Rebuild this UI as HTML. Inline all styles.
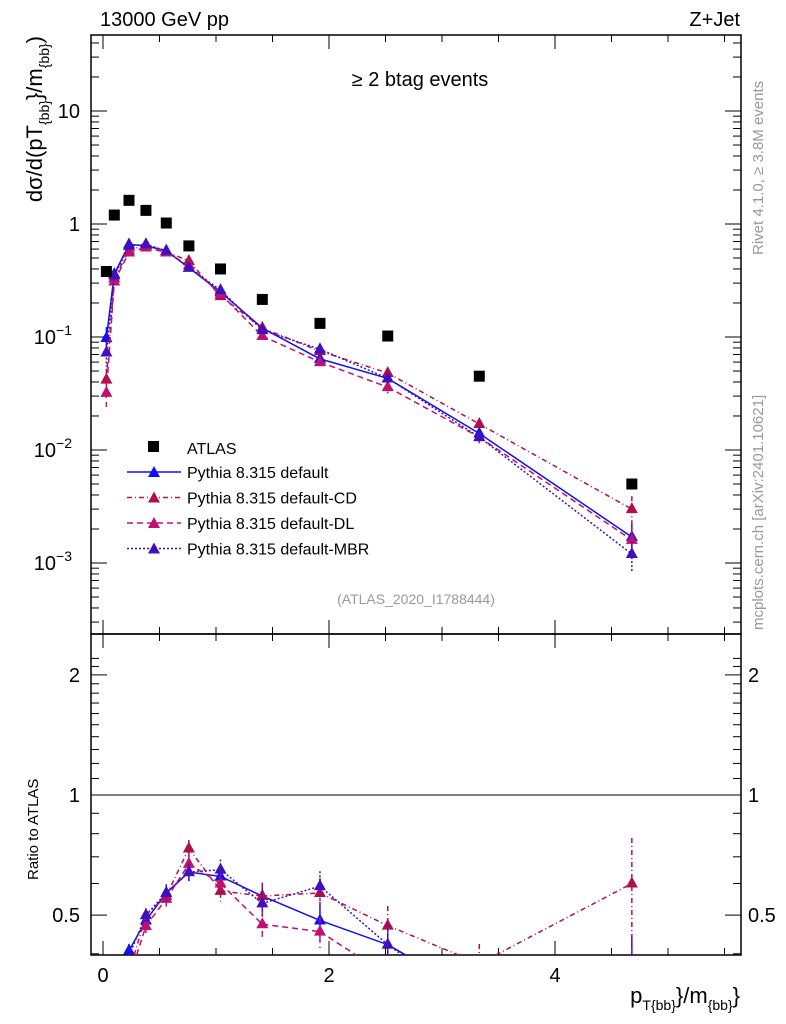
<!DOCTYPE html>
<html><head><meta charset="utf-8"><style>
html,body{margin:0;padding:0;background:#fff;font-family:"Liberation Sans",sans-serif;width:786px;height:1024px;overflow:hidden}
svg{display:block}
svg text{font-family:"Liberation Sans",sans-serif}
</style></head><body>
<svg id="c" width="786" height="1024" xmlns="http://www.w3.org/2000/svg"></svg>
<script>
const xVals=[0.03,0.10,0.23,0.38,0.56,0.76,1.04,1.41,1.92,2.52,3.33,4.68];
const atlas=[0.38,1.2,1.62,1.32,1.02,0.64,0.40,0.215,0.132,0.102,0.045,0.005];
const sDefault=[0.098,0.36,0.66,0.64,0.58,0.41,0.25,0.12,0.064,0.043,0.014,0.0017];
const sCD=[0.042,0.33,0.58,0.66,0.57,0.47,0.23,0.12,0.075,0.048,0.017,0.003];
const sDL=[0.032,0.31,0.56,0.62,0.56,0.43,0.24,0.102,0.06,0.036,0.013,0.0016];
const sMBR=[0.073,0.35,0.64,0.66,0.58,0.41,0.26,0.115,0.078,0.043,0.013,0.0012];
const relErr=[0.25,0.08,0.04,0.04,0.05,0.05,0.06,0.08,0.09,0.12,0.12,0.3];
const xTicks=[0,2,4];
const yTicks=[0.001,0.01,0.1,1,10];
const yTickLabels=["10","10","10","1","10"];
const rTicks=[0.5,1,2];

const NS="http://www.w3.org/2000/svg";
const svg=document.getElementById('c');
function el(t,a,p){const e=document.createElementNS(NS,t);for(const k in a)e.setAttribute(k,a[k]);(p||svg).appendChild(e);return e;}
const L=91,R=741,T=35,M=634,B=955;
const X=v=>103+113*v;
const Y=v=>224-113*Math.log10(v);
const RY=v=>795-399*Math.log10(v);

let f=el('rect',{x:L,y:T,width:R-L,height:M-T,fill:'none',stroke:'#000','stroke-width':1.5});

f=el('rect',{x:L,y:M,width:R-L,height:B-M,fill:'none',stroke:'#000','stroke-width':1.5});

let ln=el('line',{x1:L,x2:R,y1:RY(1),y2:RY(1),stroke:'#000','stroke-width':1});


for(let v=0;v<=5.5;v+=0.5){
  const major=Math.abs(v-Math.round(v/2)*2)<1e-6;const len=major?14:7;
  for(const [y0,d] of [[T,1],[M,-1],[M,1],[B,-1]]) el('line',{x1:X(v),x2:X(v),y1:y0,y2:y0+d*len,stroke:'#000'});
}
xTicks.forEach(v=>{const t=el('text',{x:X(v),y:982,'font-size':20,'text-anchor':'middle'});t.textContent=v;
});
for(let d=-4;d<=1;d++){for(let m=1;m<=9;m++){const v=m*Math.pow(10,d);const y=Y(v);if(y<T||y>M)continue;
 const len=m==1?16:8;el('line',{x1:L,x2:L+len,y1:y,y2:y,stroke:'#000'});el('line',{x1:R,x2:R-len,y1:y,y2:y,stroke:'#000'});}}
yTicks.forEach((v,i)=>{const g=el('text',{x:80,y:Y(v)+7,'font-size':20,'text-anchor':'end'});
 
 const e=Math.round(Math.log10(v));
 if(e==0||e==1){g.textContent=v;}else{g.setAttribute('x',72);g.textContent=yTickLabels[i];const s=el('tspan',{'font-size':14,dy:-9},g);s.textContent=String(e).replace('-','−');}
});
for(let k=3;k<=22;k++){const v=k/10;const y=RY(v);if(y<M||y>B)continue;const maj=rTicks.includes(v);
 const len=maj?16:8;el('line',{x1:L,x2:L+len,y1:y,y2:y,stroke:'#000'});el('line',{x1:R,x2:R-len,y1:y,y2:y,stroke:'#000'});}
rTicks.forEach(v=>{for(const [x,a] of [[80,'end'],[748,'start']]){const t=el('text',{x:x,y:RY(v)+7,'font-size':20,'text-anchor':a});t.textContent=v;
 }});

function txt(x,y,s,sz,attrs,name){const t=el('text',Object.assign({x:x,y:y,'font-size':sz},attrs||{}));t.textContent=s;
 return t;}
txt(100,26,'13000 GeV pp',20,{},'energy-label');
txt(740,26,'Z+Jet',20,{'text-anchor':'end'},'process-label');
txt(420,86,'≥ 2 btag events',20,{'text-anchor':'middle'},'selection-label');
txt(416,604,'(ATLAS_2020_I1788444)',14,{'text-anchor':'middle',fill:'#999'},'analysis-id');
let yl=txt(0,0,'dσ/d(pT',22,{transform:'translate(42,36) rotate(-90)','text-anchor':'end'},'y-axis-title');
let s1=el('tspan',{'font-size':14,dy:7},yl);s1.textContent='{bb}';let s2=el('tspan',{dy:-7},yl);s2.textContent='}/m';
let s3=el('tspan',{'font-size':14,dy:7},yl);s3.textContent='{bb}';let s4=el('tspan',{dy:-7},yl);s4.textContent=')';
txt(0,0,'Ratio to ATLAS',15,{transform:'translate(38,880) rotate(-90)'},'ratio-axis-title');
let xl=txt(740,1003,'p',22,{'text-anchor':'end'},'x-axis-title');
let a1=el('tspan',{'font-size':14,dy:7},xl);a1.textContent='T{bb}';let a2=el('tspan',{dy:-7},xl);a2.textContent='}/m';
let a3=el('tspan',{'font-size':14,dy:7},xl);a3.textContent='{bb}';let a4=el('tspan',{dy:-7},xl);a4.textContent='}';
txt(0,0,'Rivet 4.1.0, ≥ 3.8M events',15,{transform:'translate(763,255) rotate(-90)',fill:'#999'},'rivet-version');
txt(0,0,'mcplots.cern.ch [arXiv:2401.10621]',15,{transform:'translate(763,630) rotate(-90)',fill:'#999'},'mcplots-credit');

const series=[
 {n:'default',d:sDefault,c:'#1010f0',dash:'',label:'Pythia 8.315 default'},
 {n:'default-cd',d:sCD,c:'#b0104a',dash:'5,3,1,3',label:'Pythia 8.315 default-CD'},
 {n:'default-dl',d:sDL,c:'#c01070',dash:'6,4',label:'Pythia 8.315 default-DL'},
 {n:'default-mbr',d:sMBR,c:'#4010c0',dash:'2,2',label:'Pythia 8.315 default-MBR'}];
function tri(g,x,y,c){el('polygon',{points:`${x},${y-7} ${x-6},${y+4} ${x+6},${y+4}`,fill:c},g);}
// clip segment in pixel space to [y0,y1] band
function clipSeg(xa,ya,xb,yb,y0,y1){
 let t0=0,t1=1;const dy=yb-ya;
 for(const [p,q] of [[-dy,ya-y0],[dy,y1-ya]]){
  if(p===0){if(q<0)return null;}
  else{const r=q/p;if(p<0){if(r>t1)return null;if(r>t0)t0=r;}else{if(r<t0)return null;if(r<t1)t1=r;}}
 }
 return [xa+(xb-xa)*t0,ya+dy*t0,xa+(xb-xa)*t1,ya+dy*t1];
}
series.forEach(s=>{
 [[Y,T,M,v=>v,'main'],[RY,M,B,(v,i)=>v/atlas[i],'ratio']].forEach(([fy,y0,y1,tr,p])=>{
  const g=el('g',{});
  const pts=s.d.map((v,i)=>[X(xVals[i]),fy(tr(v,i))]);
  for(let i=0;i<pts.length-1;i++){
   const c=clipSeg(pts[i][0],pts[i][1],pts[i+1][0],pts[i+1][1],y0,y1);
   if(c)el('line',{x1:c[0],y1:c[1],x2:c[2],y2:c[3],stroke:s.c,'stroke-width':1.5,'stroke-dasharray':s.dash},g);
  }
  s.d.forEach((v,i)=>{const r=tr(v,i);const x=X(xVals[i]);
   const ea=Math.max(y0,Math.min(y1,fy(r*(1+relErr[i])))),eb=Math.max(y0,Math.min(y1,fy(r*(1-relErr[i]))));
   if(eb-ea>0.5)el('line',{x1:x,x2:x,y1:ea,y2:eb,stroke:s.c,'stroke-width':1.5,'stroke-dasharray':s.dash},g);
   const py=fy(r);if(py>=y0&&py<=y1-3)tri(g,x,py,s.c);});
 });
});
const ga=el('g',{});
atlas.forEach((v,i)=>el('rect',{x:X(xVals[i])-5.5,y:Y(v)-5.5,width:11,height:11,fill:'#000'},ga));

const lg=el('g',{});
el('rect',{x:148,y:441,width:11,height:11,fill:'#000'},lg);
let t0=el('text',{x:187,y:454,'font-size':16},lg);t0.textContent='ATLAS';
series.forEach((s,i)=>{const y=472+i*25.5;
 el('line',{x1:127,x2:181,y1:y,y2:y,stroke:s.c,'stroke-width':1.5,'stroke-dasharray':s.dash},lg);tri(lg,154,y+1,s.c);
 const t=el('text',{x:187,y:y+6,'font-size':16},lg);t.textContent=s.label;
 });
</script>
</body></html>
